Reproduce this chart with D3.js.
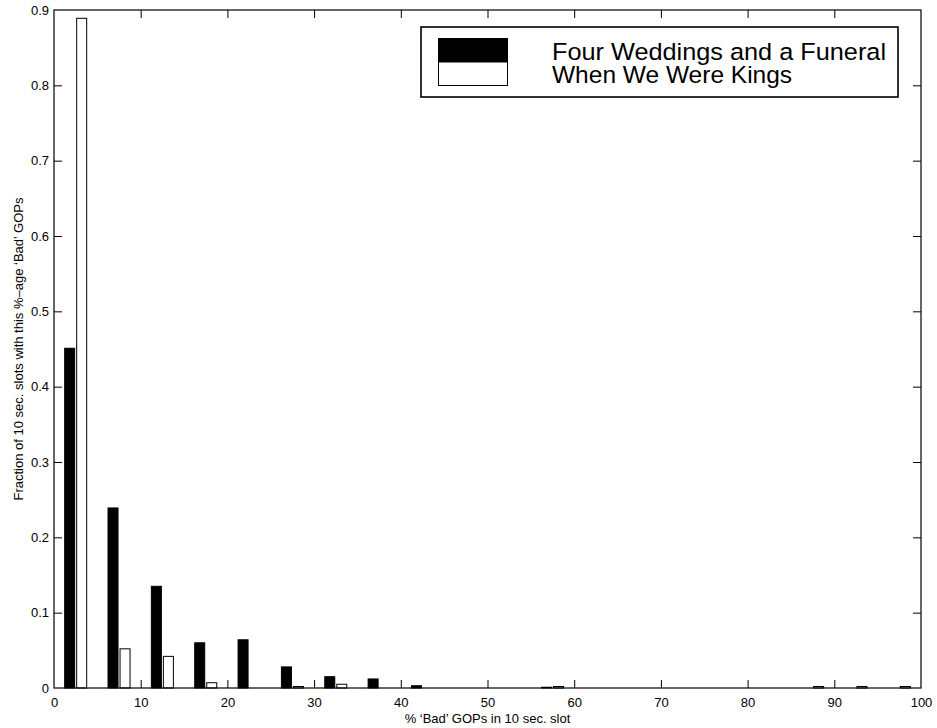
<!DOCTYPE html>
<html lang="en">

<head>
  <meta charset="UTF-8">
  <meta name="viewport" content="width=device-width, initial-scale=1.0">
  <title>Bad GOPs histogram</title>
  <script src="https://d3js.org/d3.v7.min.js"></script>
  <style>
    * {
      padding: 0;
      margin: 0;
      box-sizing: border-box;
    }

    body {
      background: #fff;
    }
  </style>
</head>

<body>
  <div id="container"></div>
  <script>
    // bin centres (% bad GOPs in a 10 sec. slot)
    const binCenters = [2.5, 7.5, 12.5, 17.5, 22.5, 27.5, 32.5, 37.5, 42.5, 47.5,
      52.5, 57.5, 62.5, 67.5, 72.5, 77.5, 82.5, 87.5, 92.5, 97.5]
    const fourWeddings = [0.451, 0.239, 0.135, 0.060, 0.064, 0.028, 0.015, 0.012, 0.003, 0,
      0, 0.001, 0, 0, 0, 0, 0, 0, 0, 0]
    const whenWeWereKings = [0.889, 0.052, 0.042, 0.007, 0, 0.002, 0.005, 0, 0, 0,
      0, 0.002, 0, 0, 0, 0, 0, 0.002, 0.002, 0.002]
    const seriesNames = ["Four Weddings and a Funeral", "When We Were Kings"]
    const seriesFill = ["#000", "#fff"]
    const xTicks = [0, 10, 20, 30, 40, 50, 60, 70, 80, 90, 100]
    const yTicks = [0, 0.1, 0.2, 0.3, 0.4, 0.5, 0.6, 0.7, 0.8, 0.9]

    const width = 937, height = 728
    const margin = { top: 10, right: 16, bottom: 40, left: 54 }
    const font = "'Liberation Sans', Arial, Helvetica, sans-serif"

    const x = d3.scaleLinear().domain([0, 100]).range([margin.left, width - margin.right])
    const y = d3.scaleLinear().domain([0, 0.9]).range([height - margin.bottom, margin.top])

    // two bars per bin, side by side
    const half = x(1.27) - x(0)
    const inner = d3.scaleBand().domain(d3.range(seriesNames.length)).range([-half, half]).paddingInner(0.167)

    const rows = binCenters.map((c, i) => ({ c, v: [fourWeddings[i], whenWeWereKings[i]] }))

    const svg = d3.select("#container")
      .append("svg")
      .attr("width", width)
      .attr("height", height)
      .attr("font-family", font)

    const bins = svg.append("g")
      .selectAll("g")
      .data(rows)
      .join("g")
      .attr("transform", d => `translate(${x(d.c)},0)`)

    bins.selectAll("rect")
      .data(d => d.v.map((v, s) => ({ v, s })).filter(e => e.v > 0))
      .join("rect")
      .attr("x", e => inner(e.s))
      .attr("width", inner.bandwidth())
      .attr("y", e => y(e.v))
      .attr("height", e => y(0) - y(e.v))
      .attr("fill", e => seriesFill[e.s])
      .attr("stroke", "#000")
      .attr("stroke-width", 1)

    // axes: ticks pointing inwards on all four sides
    const tickLen = 8
    const x0 = x.range()[0], x1 = x.range()[1]
    const y0 = y.range()[0], y1 = y.range()[1]

    const axBottom = svg.append("g")
      .attr("transform", `translate(0,${y0})`)
      .call(d3.axisBottom(x).tickValues(xTicks).tickSizeInner(-tickLen).tickSizeOuter(0).tickPadding(10))
    const axTop = svg.append("g")
      .attr("transform", `translate(0,${y1})`)
      .call(d3.axisTop(x).tickValues(xTicks).tickSizeInner(-tickLen).tickSizeOuter(0).tickFormat(""))
    const axLeft = svg.append("g")
      .attr("transform", `translate(${x0},0)`)
      .call(d3.axisLeft(y).tickValues(yTicks).tickSizeInner(-tickLen).tickSizeOuter(0).tickPadding(5).tickFormat(d3.format("~g")))
    const axRight = svg.append("g")
      .attr("transform", `translate(${x1},0)`)
      .call(d3.axisRight(y).tickValues(yTicks).tickSizeInner(-tickLen).tickSizeOuter(0).tickFormat(""))

    for (const g of [axBottom, axTop, axLeft, axRight]) {
      g.select(".domain").remove()
      g.selectAll("line").attr("stroke", "#000")
      g.selectAll("text").attr("font-family", font).attr("font-size", 13).attr("fill", "#000")
    }
    // hide end ticks that would sit on the frame
    axBottom.selectAll(".tick").filter(d => d === 0 || d === 100).select("line").remove()
    axTop.selectAll(".tick").filter(d => d === 0 || d === 100).select("line").remove()
    axLeft.selectAll(".tick").filter(d => d === 0 || d === 0.9).select("line").remove()
    axRight.selectAll(".tick").filter(d => d === 0 || d === 0.9).select("line").remove()

    svg.append("rect")
      .attr("x", x0).attr("y", y1)
      .attr("width", x1 - x0).attr("height", y0 - y1)
      .attr("fill", "none").attr("stroke", "#000").attr("stroke-width", 1.2)

    // axis labels
    svg.append("text")
      .attr("x", (x0 + x1) / 2)
      .attr("y", 723)
      .attr("text-anchor", "middle")
      .attr("font-size", 13)
      .text("% \u2018Bad\u2019 GOPs in 10 sec. slot")

    svg.append("text")
      .attr("transform", `translate(23,${(y0 + y1) / 2}) rotate(-90)`)
      .attr("text-anchor", "middle")
      .attr("font-size", 13)
      .text("Fraction of 10 sec. slots with this %\u2013age \u2018Bad\u2019 GOPs")

    // legend
    const legend = svg.append("g")
    legend.append("rect")
      .attr("x", 421).attr("y", 27)
      .attr("width", 477).attr("height", 70)
      .attr("fill", "#fff").attr("stroke", "#000").attr("stroke-width", 1.6)

    legend.selectAll(".swatch")
      .data(seriesNames)
      .join("rect")
      .attr("class", "swatch")
      .attr("x", 438.5)
      .attr("y", (d, i) => 38.5 + i * 23.5)
      .attr("width", 69)
      .attr("height", 23.5)
      .attr("fill", (d, i) => seriesFill[i])
      .attr("stroke", "#000")
      .attr("stroke-width", 1)

    legend.selectAll(".label")
      .data(seriesNames)
      .join("text")
      .attr("class", "label")
      .attr("x", 552)
      .attr("y", (d, i) => 60 + i * 23.3)
      .attr("font-size", 24.5)
      .attr("textLength", d => d.length > 20 ? 334 : null)
      .attr("lengthAdjust", "spacingAndGlyphs")
      .text(d => d)
  </script>
</body>

</html>
